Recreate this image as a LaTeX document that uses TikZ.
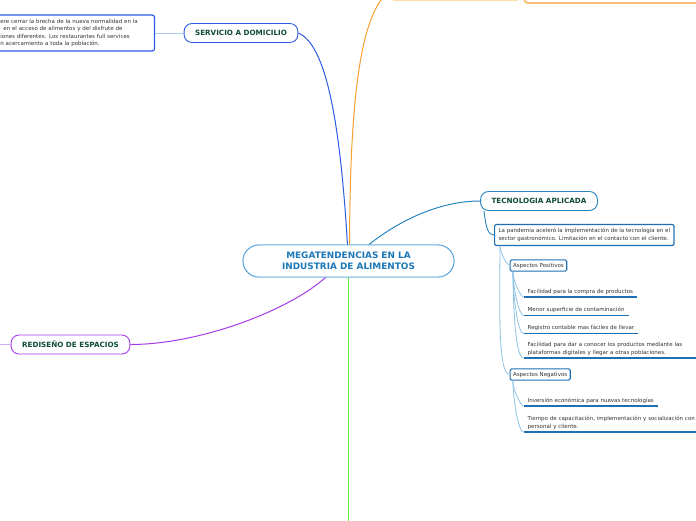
\documentclass[tikz,border=0pt]{standalone}
\usepackage{fontspec}
\setmainfont{DejaVu Sans}
\usepackage{xcolor}

\definecolor{megablue}{HTML}{1C78B8}
\definecolor{megaline}{HTML}{5AA8DC}
\definecolor{servblue}{HTML}{2D5BE3}
\definecolor{lightblue}{HTML}{A9CBEF}
\definecolor{tecblue}{HTML}{2A86C0}
\definecolor{boxblue}{HTML}{1F6FB5}
\definecolor{subline}{HTML}{8EC3E6}
\definecolor{darkgreen}{HTML}{0F4A3A}
\definecolor{orangec}{HTML}{F7A030}
\definecolor{lightorange}{HTML}{FFDCA8}
\definecolor{greenc}{HTML}{66EE33}
\definecolor{purplec}{HTML}{A63BE8}
\definecolor{lightpurple}{HTML}{D7A8F5}
\definecolor{textgray}{HTML}{333333}

\tikzset{
  central/.style={rectangle, rounded corners=16pt, draw=megaline, line width=0.9pt, fill=white, minimum width=211pt, minimum height=32pt, align=center, font=\bfseries\fontsize{8.9}{11}\selectfont, text=megablue},
  branch/.style={rectangle, rounded corners=8pt, fill=white, line width=0.9pt, minimum height=19pt, inner xsep=11pt, font=\bfseries\fontsize{7.2}{8}\selectfont, text=darkgreen},
  infobox/.style={rectangle, rounded corners=2pt, fill=white, draw=boxblue, line width=1.2pt, inner sep=4pt, align=left, font=\fontsize{5.5}{7.5}\selectfont, text=textgray},
  aspect/.style={rectangle, rounded corners=1.5pt, fill=white, draw=boxblue, line width=1.1pt, inner sep=3pt, font=\fontsize{5.5}{6}\selectfont, text=textgray, anchor=west},
  item/.style={inner xsep=4pt, inner ysep=2.5pt, anchor=south west, align=left, font=\fontsize{5.5}{7.2}\selectfont, text=textgray},
  underline/.style={draw=boxblue, line width=1.1pt},
  twig/.style={draw=subline, line width=0.8pt},
  bend down/.style={out=-90, in=180, out looseness=0.9, in looseness=0.25}
}

\begin{document}
\begin{tikzpicture}[x=1pt, y=-1pt]
\clip (0,0) rectangle (696,520);
\fill[white] (0,0) rectangle (696,520);

% central topic and branches
\node[central] (mega) at (348.5,261) {MEGATENDENCIAS EN LA\\INDUSTRIA DE ALIMENTOS};
\draw[greenc, line width=1pt] (mega.south) -- (348.5,525);
\node[branch, draw=servblue] (serv) at (241,33) {SERVICIO A DOMICILIO};
\node[branch, draw=tecblue] (tec) at (539,201) {TECNOLOGIA APLICADA};
\node[branch, draw=purplec] (redis) at (70.5,344.5) {REDISEÑO DE ESPACIOS};
\coordinate (orangetop) at (386,-6);
\coordinate (purpleleft) at (-10,344.5);

\draw[servblue, line width=1pt] (347.5,245) .. controls (340,120) and (326,45) .. (serv.east);
\draw[orangec, line width=1pt] (349.5,245) .. controls (350,100) and (360,20) .. (orangetop);
\draw[tecblue, line width=1pt] (369,244.5) .. controls (400,220) and (440,201) .. (tec.west);
\draw[purplec, line width=1pt] (326,277) .. controls (290,310) and (200,344.5) .. (redis.east);
% redraw the central node over the connector ends
\node[central] at (mega) {MEGATENDENCIAS EN LA\\INDUSTRIA DE ALIMENTOS};

% nodes cut off by the top edge
\node[draw=orangec, rounded corners=3pt, line width=1.1pt, minimum width=190pt, minimum height=30pt, anchor=south west] (orangebox) at (524,3.5) {};
\draw[lightorange, line width=1.5pt] (393,0) -- (518,0);

% servicio a domicilio
\node[infobox, draw=servblue, anchor=east, minimum height=32pt, text width=150pt] (servtxt) at (155,33) {ere cerrar la brecha de la nueva normalidad en la\\\hspace*{3pt}en el acceso de alimentos y del disfrute de\\iones diferentes. Los restaurantes full services\\n acercamiento a toda la población.};
\draw[lightblue, line width=1pt] (servtxt.east) -- (serv.west);

% rediseño de espacios
\draw[lightpurple, line width=1pt] (redis.west) -- (purpleleft);

% tecnologia aplicada
\node[infobox, anchor=west] (pand) at (494,235) {La pandemia aceleró la implementación de la tecnología en el\\sector gastronómico. Limitación en el contacto con el cliente.};
\draw[tecblue, line width=0.9pt] (484,211) .. controls (486,228) and (488,235) .. (pand.west);

\coordinate (pandbase) at (500,245.5);
\node[aspect] (apos) at (509.5,265.5) {Aspectos Positivos};
\node[aspect] (aneg) at (509.5,374.5) {Aspectos Negativos};
\draw[twig] (pandbase) to[bend down] (apos.west);
\draw[twig] (pandbase) to[bend down] (aneg.west);

% positive aspects
\node[item] (pos1) at (523.5,297) {Facilidad para la compra de productos};
\node[item] (pos2) at (523.5,315.5) {Menor superficie de contaminación};
\node[item] (pos3) at (523.5,333.5) {Registro contable mas fáciles de llevar};
\node[item, text width=174pt] (pos4) at (523.5,358) {Facilidad para dar a conocer los productos mediante las\\plataformas digitales y llegar a otras poblaciones.};
\coordinate (aposbase) at (513,272);
\foreach \n in {pos1,pos2,pos3,pos4} {
  \draw[twig] (aposbase) to[bend down] (\n.south west);
  \draw[underline] (\n.south west) -- (\n.south east);
}

% negative aspects
\node[item] (neg1) at (523.5,406) {Inversión económica para nuevas tecnologías};
\node[item, text width=174pt] (neg2) at (523.5,432) {Tiempo de capacitación, implementación y socialización con\\personal y cliente.};
\coordinate (anegbase) at (513,381);
\foreach \n in {neg1,neg2} {
  \draw[twig] (anegbase) to[bend down] (\n.south west);
  \draw[underline] (\n.south west) -- (\n.south east);
}
\end{tikzpicture}
\end{document}
